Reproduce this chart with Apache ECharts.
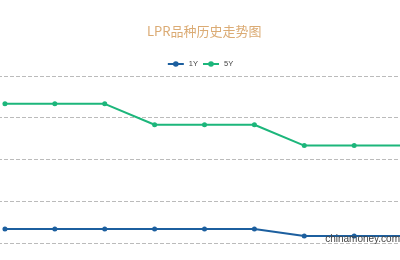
<!DOCTYPE html>
<html lang="zh">
<head>
  <meta charset="UTF-8">
  <title>LPR品种历史走势图</title>
  <style type="text/css">
    html, body { margin: 0; padding: 0; background: #fff; overflow: hidden; }
    /* 图表比窗口宽，左右各超出 30px，网格线从窗口边缘延伸出去 */
    #main { width: 460px; height: 260px; margin-left: -30px; }
  </style>
</head>
<body>
  <div id="main"></div>
</body>
<script type="text/javascript" src="https://cdn.jsdelivr.net/npm/echarts@6/dist/echarts.min.js"></script>
<script type="text/javascript">
  // 数据
  var months = ['2022-02', '2022-03', '2022-04', '2022-05', '2022-06', '2022-07', '2022-08', '2022-09', '2022-10']
  var lpr1Y = [3.70, 3.70, 3.70, 3.70, 3.70, 3.70, 3.65, 3.65, 3.65]
  var lpr5Y = [4.60, 4.60, 4.60, 4.45, 4.45, 4.45, 4.30, 4.30, 4.30]
  var seriesNames = ['1Y', '5Y']

  var myChart = echarts.init(document.getElementById('main'))
  var option = {
    animation: false,
    color: ['#1c5f9f', '#1cb67b'],
    title: {
      text: 'LPR品种历史走势图',
      left: 172,
      top: 20,
      textStyle: { color: '#dbab74', fontSize: 13, fontWeight: 'normal', fontFamily: 'Noto Sans CJK SC' }
    },
    legend: {
      data: seriesNames,
      left: 'center',
      top: 55,
      itemWidth: 16,
      itemHeight: 7,
      itemGap: 4,
      textStyle: { fontSize: 7.5, color: '#444' }
    },
    grid: { left: 10, right: 1, top: 76, bottom: 17 },
    xAxis: {
      type: 'category',
      data: months,
      boundaryGap: true,
      axisLine: { show: false },
      axisTick: { show: false },
      axisLabel: { show: false }
    },
    yAxis: {
      type: 'value',
      min: 3.6,
      max: 4.8,
      interval: 0.3,
      axisLabel: { show: false },
      splitLine: { lineStyle: { type: 'dashed', color: '#bbb' } }
    },
    series: [{
      name: '1Y',
      type: 'line',
      data: lpr1Y,
      symbol: 'circle',
      symbolSize: 5,
      lineStyle: { width: 2 }
    }, {
      name: '5Y',
      type: 'line',
      data: lpr5Y,
      symbol: 'circle',
      symbolSize: 5,
      lineStyle: { width: 2 }
    }],
    graphic: [{
      type: 'text',
      right: 30,
      top: 234,
      z: 100,
      style: { text: 'chinamoney.com', fontSize: 10, fill: '#444', fontFamily: 'Liberation Sans' }
    }]
  }
  myChart.setOption(option)
</script>
</html>
